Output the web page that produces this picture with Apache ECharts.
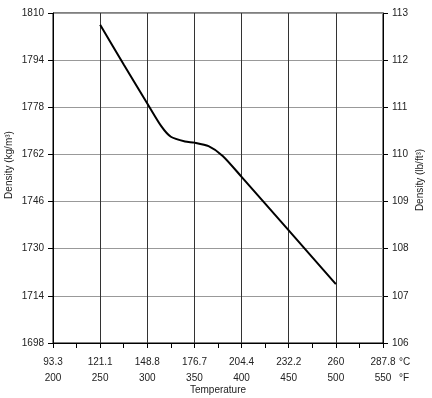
<!DOCTYPE html>
<html><head><meta charset="utf-8">
<script src="https://cdn.jsdelivr.net/npm/echarts@6/dist/echarts.min.js"></script>
<style>html,body{margin:0;padding:0;background:#fff}#c{width:432px;height:398px}</style>
</head><body><div id="c"></div>
<script>
const tempF = [250, 275, 300, 315, 325, 340, 350, 365, 380, 400, 450, 500];
const densityKg = [1806, 1792.5, 1779.3, 1771.5, 1768, 1766.4, 1766, 1764.8, 1761.5, 1754.4, 1736.2, 1718];
const fTicks = [200, 250, 300, 350, 400, 450, 500, 550];
const cLabels = ['93.3', '121.1', '148.8', '176.7', '204.4', '232.2', '260', '287.8'];
const kgTicks = [1698, 1714, 1730, 1746, 1762, 1778, 1794, 1810];
const lbTicks = [106, 107, 108, 109, 110, 111, 112, 113];

const font = 'Liberation Sans, Arial, sans-serif';
const chart = echarts.init(document.getElementById('c'), null, {renderer: 'canvas'});
chart.setOption({
  animation: false,
  backgroundColor: '#fff',
  grid: {left: 53, right: 49, top: 13, bottom: 55, containLabel: false, outerBoundsMode: 'none', show: true, borderColor: '#000', borderWidth: 1, backgroundColor: 'transparent'},
  xAxis: {
    type: 'value', min: 200, max: 550, interval: 50,
    axisLine: {show: true, onZero: false, lineStyle: {color: '#000', width: 1}},
    axisTick: {show: true, length: 5, lineStyle: {color: '#000'}},
    minorTick: {show: true, splitNumber: 2, length: 5, lineStyle: {color: '#000'}},
    splitLine: {show: true, lineStyle: {color: '#333', width: 1}},
    axisLabel: {
      margin: 11, fontFamily: font, color: '#222', fontSize: 10, lineHeight: 16,
      formatter: function (v) { const i = fTicks.indexOf(v); return cLabels[i] + '\n' + v; }
    }
  },
  yAxis: [{
    type: 'value', min: 1698, max: 1810, position: 'left',
    axisLine: {show: true, lineStyle: {color: '#000'}},
    axisTick: {show: true, length: 5, customValues: kgTicks, lineStyle: {color: '#000'}},
    axisLabel: {customValues: kgTicks, margin: 9, fontFamily: font, color: '#222', fontSize: 10, formatter: v => String(v)},
    splitLine: {show: true, lineStyle: {color: '#999', width: 1}}
  }, {
    type: 'value', min: 106, max: 113, interval: 1, position: 'right',
    axisLine: {show: true, lineStyle: {color: '#000'}},
    axisTick: {show: true, length: 5, lineStyle: {color: '#000'}},
    axisLabel: {margin: 9, fontFamily: font, color: '#222', fontSize: 10, formatter: v => String(v)},
    splitLine: {show: false}
  }],
  graphic: [
    {type: 'text', x: 218, y: 390, style: {text: 'Temperature', font: '10px ' + font, fill: '#222', align: 'center', verticalAlign: 'middle'}},
    {type: 'text', x: 9, y: 165, rotation: Math.PI / 2, style: {text: 'Density (kg/m³)', font: '10px ' + font, fill: '#222', align: 'center', verticalAlign: 'middle'}},
    {type: 'text', x: 420, y: 180, rotation: Math.PI / 2, style: {text: 'Density (lb/ft³)', font: '10px ' + font, fill: '#222', align: 'center', verticalAlign: 'middle'}},
    {type: 'text', x: 399, y: 362, style: {text: '°C', font: '10px ' + font, fill: '#222', verticalAlign: 'middle'}},
    {type: 'text', x: 399, y: 378, style: {text: '°F', font: '10px ' + font, fill: '#222', verticalAlign: 'middle'}}
  ],
  series: [{
    type: 'line', yAxisIndex: 0, smooth: 0.25, showSymbol: false,
    lineStyle: {color: '#000', width: 2},
    data: tempF.map((f, i) => [f, densityKg[i]])
  }]
});
</script></body></html>
